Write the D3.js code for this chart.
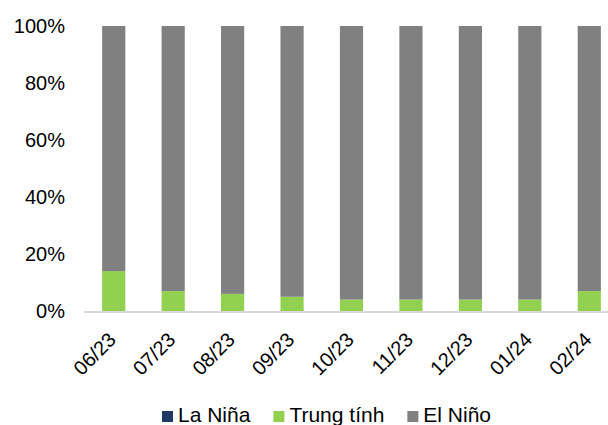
<!DOCTYPE html>
<html>
<head>
<meta charset="utf-8">
<script src="https://cdn.jsdelivr.net/npm/d3@7"></script>
<style>
  body { margin: 0; background: #fff; }
  text { font-family: 'Liberation Sans', Arial, sans-serif; fill: #000; }
</style>
</head>
<body>
<div id="chart"></div>
<script>
const months = ['06/23', '07/23', '08/23', '09/23', '10/23', '11/23', '12/23', '01/24', '02/24']
const laNina = [0, 0, 0, 0, 0, 0, 0, 0, 0]
const trungTinh = [14, 7, 6, 5, 4, 4, 4, 4, 7]
const elNino = [86, 93, 94, 95, 96, 96, 96, 96, 93]
const yTicks = [0, 20, 40, 60, 80, 100]

const seriesNames = ['La Niña', 'Trung tính', 'El Niño']
const colors = ['#1f3864', '#92d050', '#808080']

const W = 608, H = 425
const svg = d3.select('#chart').append('svg').attr('width', W).attr('height', H)

const rows = months.map((m, i) => ({ m, 'La Niña': laNina[i], 'Trung tính': trungTinh[i], 'El Niño': elNino[i] }))
const stack = d3.stack().keys(seriesNames)(rows)

const x = d3.scaleBand().domain(months).range([84, 619]).paddingInner(0.61).paddingOuter(0.305)
const y = d3.scaleLinear().domain([0, 100]).range([311, 26])

// y labels
svg.append('g').selectAll('text')
    .data(yTicks).enter()
    .append('text')
    .attr('x', 65)
    .attr('y', d => y(d))
    .attr('dy', '0.35em')
    .attr('text-anchor', 'end')
    .style('font-size', '20px')
    .text(d => d + '%')

// bars
svg.selectAll('.series')
    .data(stack).enter()
    .append('g')
    .attr('fill', (d, i) => colors[i])
    .selectAll('rect')
    .data(d => d).enter()
    .append('rect')
    .attr('x', d => x(d.data.m))
    .attr('width', x.bandwidth())
    .attr('y', d => y(d[1]))
    .attr('height', d => y(d[0]) - y(d[1]))

// baseline
svg.append('line')
    .attr('x1', 84).attr('x2', W)
    .attr('y1', y(0) + 1).attr('y2', y(0) + 1)
    .attr('stroke', '#d9d9d9').attr('stroke-width', 2)

// x labels
svg.append('g').selectAll('text')
    .data(months).enter()
    .append('text')
    .attr('transform', d => `translate(${x(d) + x.bandwidth() / 2 + 3.5}, ${y(0) + 30}) rotate(-45)`)
    .attr('text-anchor', 'end')
    .style('font-size', '20px')
    .text(d => d)

// legend
let lx = 162
seriesNames.forEach((name, i) => {
    const g = svg.append('g').attr('transform', `translate(${lx}, 422)`)
    g.append('rect')
        .attr('x', 0).attr('y', -11)
        .attr('width', 11).attr('height', 11)
        .attr('fill', colors[i])
    const t = g.append('text')
        .attr('x', 16)
        .attr('y', 0)
        .style('font-size', '21px')
        .text(name)
    lx += 16 + t.node().getComputedTextLength() + 23
})
</script>
</body>
</html>
